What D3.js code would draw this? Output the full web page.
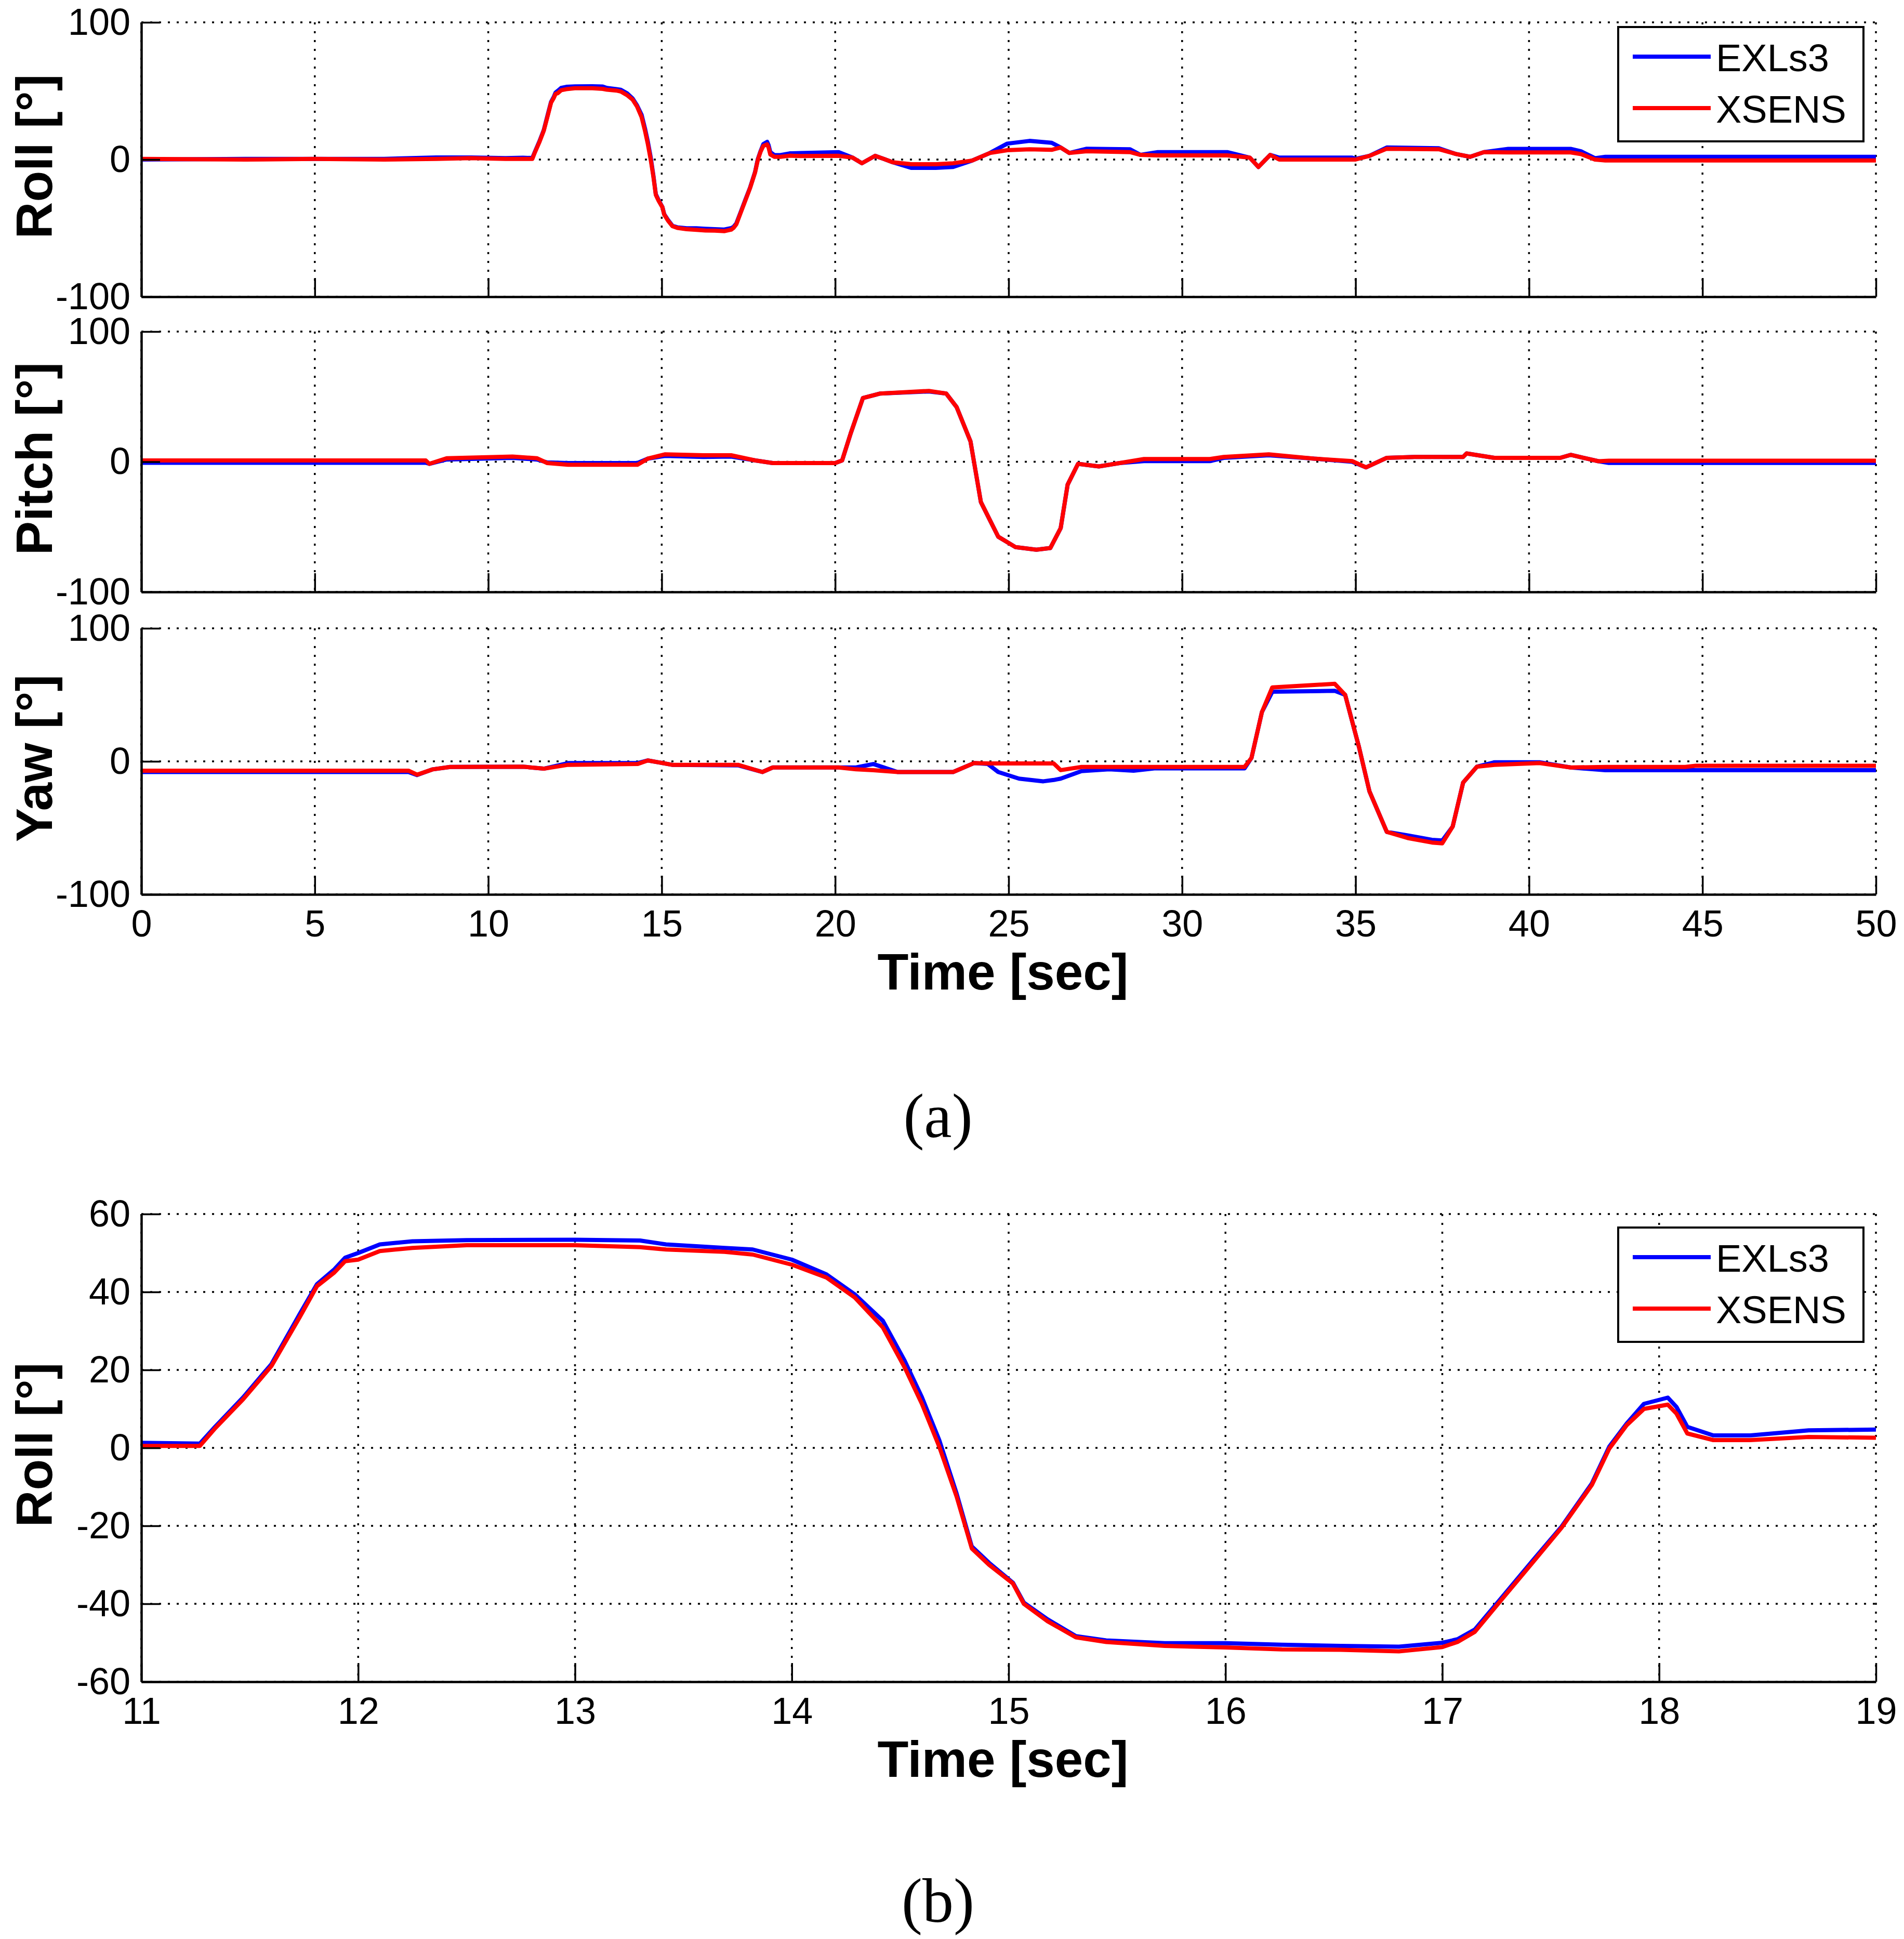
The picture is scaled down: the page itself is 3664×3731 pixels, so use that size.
<!DOCTYPE html>
<html>
<head>
<meta charset="utf-8">
<script src="https://cdn.jsdelivr.net/npm/d3@7"></script>
<style>
  body { margin: 0; background: #fff; }
  svg { display: block; }
</style>
</head>
<body>
<svg id="chart" width="3664" height="3731"></svg>
<script>
// roll (also used by the zoomed panel b)
const rollTime = [0, 3, 5, 7, 8.5, 9.5, 10.5, 11.0, 11.27, 11.34, 11.47, 11.6, 11.73, 11.81, 11.89, 11.94,
  12.0, 12.1, 12.25, 12.5, 13.0, 13.3, 13.42, 13.69, 13.82, 14.0, 14.16, 14.29, 14.42, 14.52, 14.6, 14.68,
  14.76, 14.83, 14.91, 15.02, 15.07, 15.18, 15.31, 15.45, 15.72, 16.0, 16.26, 16.53, 16.8, 17.0, 17.07,
  17.15, 17.28, 17.42, 17.55, 17.69, 17.77, 17.85, 17.93, 18.04, 18.08, 18.13, 18.25, 18.42, 18.69, 19.0,
  20.1, 20.5, 20.77, 21.15, 21.4, 21.66, 22.2, 22.9, 23.4, 23.95, 24.46, 24.96, 25.6, 26.24, 26.5, 26.75,
  27.25, 28.5, 28.8, 29.3, 31.3, 31.95, 32.2, 32.54, 32.8, 34.9, 35.0, 35.4, 35.9, 37.4, 37.9, 38.3, 38.7,
  39.4, 41.2, 41.5, 41.9, 42.2, 50];
const rollExls = [0, 0.5, 0.5, 0.5, 1.5, 1.5, 1, 1.3, 1.1, 5.4, 13, 21.5, 34.3, 42, 45.8, 48.8,
  50, 52.2, 53, 53.3, 53.4, 53.2, 52.2, 51.3, 50.9, 48.3, 44.5, 39.4, 32.6, 22.4, 13, 2,
  -11.7, -25.3, -29.5, -34.6, -39.7, -44, -48.3, -49.4, -50.1, -50.1, -50.5, -50.8, -51, -50, -49.1,
  -46.6, -38, -28.7, -20.2, -9.1, 0.3, 6.2, 11.3, 12.9, 10.5, 5.4, 3.2, 3.2, 4.5, 4.7,
  5.4, 1.4, -2.7, 2.7, 0.5, -2, -6.1, -6.1, -5.4, -0.7, 4.8, 11.6, 13.6, 12.2, 8.8, 4.8,
  7.9, 7.5, 3.4, 5.4, 5.4, 1.4, -5.4, 3.4, 1.4, 1.4, 0.5, 2.7, 8.8, 8.2, 4, 2, 5.4,
  7.8, 7.8, 6, 1, 2, 2];
const rollXsens = [0.5, 0, 0.5, 0, 0.5, 1, 0.5, 0.5, 0.5, 5, 12.5, 21, 33.5, 41.5, 45, 47.9,
  48.3, 50.5, 51.3, 52, 52, 51.5, 50.9, 50.3, 49.6, 47, 43.7, 38.6, 30.9, 20.7, 11.3, 0.3,
  -12.5, -25.8, -30, -34.8, -40, -44.5, -48.6, -49.8, -50.8, -51.2, -51.7, -51.8, -52.2, -51.1, -49.8,
  -47.2, -38.5, -29.2, -20.5, -9.5, -0.2, 5.8, 10, 11.1, 8.8, 3.7, 2, 2, 2.8, 2.6,
  2.7, 1.4, -2.7, 2.7, 0.5, -2, -3.4, -3.4, -2.7, -0.7, 4.8, 6.8, 7.5, 7.1, 8.8, 4.8,
  6.1, 5.4, 3.4, 3, 3, 1.4, -5.4, 3.4, 0, 0, 0, 2.7, 7.9, 7.5, 4, 2, 5.4,
  5.2, 5.2, 4, 0, -0.7, -0.7];

const pitchTime = [0, 8.2, 8.3, 8.8, 10.7, 11.4, 11.7, 12.3, 14.3, 14.6, 15.1, 16.2, 17.0, 17.7, 18.2, 20.0,
  20.2, 20.45, 20.8, 21.3, 22.7, 23.2, 23.5, 23.9, 24.2, 24.7, 25.2, 25.8, 26.2, 26.5, 26.7, 27.0,
  27.6, 28.2, 28.9, 30.8, 31.2, 32.5, 33.8, 34.9, 35.3, 35.9, 36.7, 38.1, 38.2, 39, 40.9, 41.2,
  42.0, 42.3, 50];
const pitchExls = [-0.8, -0.8, -1.6, 1.7, 3, 1.7, -0.5, -1, -1, 2.4, 4.5, 3.7, 4, 1, -1, -1,
  1, 22, 49, 52.4, 54, 52.4, 42, 15.7, -31, -57.6, -65.6, -67.6, -66.3, -51, -17.6, -1.6,
  -3.6, -1, 0.5, 0.5, 3, 5, 2.4, 0, -4.3, 3, 3.7, 3.7, 6.4, 3, 3, 5.3,
  0.4, -0.9, -0.9];
const pitchXsens = [1, 1, -1.6, 2.7, 4, 2.7, -1, -2.3, -2.3, 2.4, 5.7, 5, 5, 1, -1, -1,
  1, 22, 49, 52.4, 54.4, 52.4, 42, 15.7, -31, -57.6, -65.6, -67.6, -66.3, -51, -17.6, -1.6,
  -3.6, -1, 2.1, 2.1, 3.7, 5.7, 2.4, 0.5, -4.3, 3, 3.7, 3.7, 6.4, 3, 3, 5.3,
  0.4, 0.8, 0.8];

const yawTime = [0, 7.7, 7.95, 8.4, 8.9, 11.0, 11.6, 12.3, 14.3, 14.6, 15.3, 17.2, 17.9, 18.2, 20.1, 20.6,
  21.1, 21.8, 23.4, 24.0, 24.4, 24.7, 25.3, 26.0, 26.3, 26.5, 27.1, 27.9, 28.6, 29.2, 31.8, 32.0,
  32.3, 32.6, 34.4, 34.7, 35.1, 35.4, 35.9, 36.5, 37.2, 37.5, 37.8, 38.1, 38.5, 39.0, 40.3, 41.2,
  42.2, 44.5, 44.8, 50];
const yawExls = [-8, -8, -10.3, -6, -4.2, -4, -5.5, -1.3, -1.3, 0.7, -2.6, -3, -8, -4.6, -4.6, -4.6,
  -2, -8, -8, -1.3, -2, -8, -13, -15, -14, -13, -7.3, -6, -7, -5.3, -5.3, 2.6,
  37, 52.3, 53, 50, 10.6, -22.5, -53, -55.6, -59, -59.5, -49, -16, -4, -0.7, -0.7, -4.6,
  -6.6, -6.6, -6.6, -6.6];
const yawXsens = [-7, -7, -10, -6, -4.2, -4, -5.5, -2.6, -2, 0.7, -2.6, -2.6, -8, -4.6, -4.6, -6,
  -6.6, -8, -8, -1.3, -1.6, -1.6, -1.6, -1.6, -1.6, -6.6, -4.2, -4.2, -4.2, -4.2, -4.2, 2.6,
  37, 55.6, 58.3, 50, 10.6, -22.5, -53, -57.6, -61, -61.6, -49, -16, -4, -2.6, -1.3, -4.6,
  -4.2, -4.2, -3.3, -3.3];

const seriesNames = ["EXLs3", "XSENS"];
const seriesColors = ["#0000ff", "#ff0000"];
const yLabels = ["Roll [°]", "Pitch [°]", "Yaw [°]"];
const fullTicksX = [0, 5, 10, 15, 20, 25, 30, 35, 40, 45, 50];
const fullTicksY = [-100, 0, 100];
const zoomTicksX = [11, 12, 13, 14, 15, 16, 17, 18, 19];
const zoomTicksY = [-60, -40, -20, 0, 20, 40, 60];

const svg = d3.select("#chart");
svg.append("rect").attr("width", 3664).attr("height", 3731).attr("fill", "#fff");

const LEFT = 272, RIGHT = 3610;
const SANS = "'Liberation Sans', Arial, Helvetica, sans-serif";

const zip = (t, v) => t.map((d, i) => [d, v[i]]);
// matlab prints a plain hyphen, not the unicode minus d3.format gives
const plain = (d) => String(d);

// draws one matlab-style axes block
const drawAxes = ({ top, bottom, xDomain, yDomain, xTicks, yTicks, showX, label, series, legendTop }) => {
  const x = d3.scaleLinear().domain(xDomain).range([LEFT, RIGHT]);
  const y = d3.scaleLinear().domain(yDomain).range([bottom, top]);
  const g = svg.append("g");

  // dotted grid
  g.selectAll("line.gx").data(xTicks).join("line")
    .attr("x1", x).attr("x2", x).attr("y1", top).attr("y2", bottom)
    .attr("stroke", "#000").attr("stroke-width", 3.5).attr("stroke-dasharray", "4,13");
  g.selectAll("line.gy").data(yTicks).join("line")
    .attr("y1", y).attr("y2", y).attr("x1", LEFT).attr("x2", RIGHT)
    .attr("stroke", "#000").attr("stroke-width", 3.5).attr("stroke-dasharray", "4,13");

  const line = d3.line().x((d) => x(d[0])).y((d) => y(d[1]));
  series.forEach((s, i) => {
    g.append("path")
      .datum(s)
      .attr("d", line)
      .attr("fill", "none")
      .attr("stroke", seriesColors[i])
      .attr("stroke-width", 8)
      .attr("stroke-linejoin", "round");
  });

  const xAxis = g.append("g").attr("transform", `translate(0,${bottom})`)
    .call(d3.axisBottom(x).tickValues(xTicks).tickSize(-36).tickSizeOuter(0).tickPadding(30)
      .tickFormat(showX ? plain : () => ""));
  const yAxis = g.append("g").attr("transform", `translate(${LEFT},0)`)
    .call(d3.axisLeft(y).tickValues(yTicks).tickSize(-36).tickSizeOuter(0).tickPadding(21)
      .tickFormat(plain));

  [xAxis, yAxis].forEach((a) => {
    a.select(".domain").attr("stroke", "#000").attr("stroke-width", 4.5);
    a.selectAll(".tick line").attr("stroke", "#000").attr("stroke-width", 3.5);
    a.selectAll(".tick text").attr("font-family", SANS).attr("font-size", 72).attr("fill", "#000");
  });

  g.append("text")
    .attr("transform", `translate(100,${(top + bottom) / 2 - 6}) rotate(-90)`)
    .attr("text-anchor", "middle")
    .attr("font-family", SANS).attr("font-weight", "bold").attr("font-size", 98)
    .text(label);

  if (legendTop != null) {
    const lx = 3114, lw = 472, lh = 220;
    const lg = g.append("g");
    lg.append("rect").attr("x", lx).attr("y", legendTop).attr("width", lw).attr("height", lh)
      .attr("fill", "#fff").attr("stroke", "#000").attr("stroke-width", 4);
    seriesNames.forEach((name, i) => {
      const ly = legendTop + 57 + i * 99;
      lg.append("line").attr("x1", lx + 28).attr("x2", lx + 178).attr("y1", ly).attr("y2", ly)
        .attr("stroke", seriesColors[i]).attr("stroke-width", 8);
      lg.append("text").attr("x", lx + 188).attr("y", ly + 28)
        .attr("font-family", SANS).attr("font-size", 74).text(name);
    });
  }
};

// panel (a)
const panelRows = [
  { top: 43, bottom: 571, t: rollTime, b: rollExls, r: rollXsens, legendTop: 52 },
  { top: 638, bottom: 1139, t: pitchTime, b: pitchExls, r: pitchXsens },
  { top: 1209, bottom: 1721, t: yawTime, b: yawExls, r: yawXsens },
];
panelRows.forEach((p, i) => {
  drawAxes({
    top: p.top, bottom: p.bottom, xDomain: [0, 50], yDomain: [-100, 100],
    xTicks: fullTicksX, yTicks: fullTicksY, showX: i === 2, label: yLabels[i],
    series: [zip(p.t, p.b), zip(p.t, p.r)], legendTop: p.legendTop,
  });
});

// panel (b): roll between 11 and 19 s
const inZoom = (d) => d[0] >= 11 && d[0] <= 19;
drawAxes({
  top: 2336, bottom: 3236, xDomain: [11, 19], yDomain: [-60, 60],
  xTicks: zoomTicksX, yTicks: zoomTicksY, showX: true, label: yLabels[0],
  series: [zip(rollTime, rollExls).filter(inZoom), zip(rollTime, rollXsens).filter(inZoom)],
  legendTop: 2362,
});

// axis titles and captions
[1904, 3419].forEach((yy) => {
  svg.append("text").attr("x", 1930).attr("y", yy).attr("text-anchor", "middle")
    .attr("font-family", SANS).attr("font-weight", "bold").attr("font-size", 98)
    .text("Time [sec]");
});
[["(a)", 2188], ["(b)", 3698]].forEach(([txt, yy]) => {
  svg.append("text").attr("x", 1805).attr("y", yy).attr("text-anchor", "middle")
    .attr("font-family", "'Liberation Serif', 'Times New Roman', serif").attr("font-size", 120)
    .text(txt);
});
</script>
</body>
</html>
